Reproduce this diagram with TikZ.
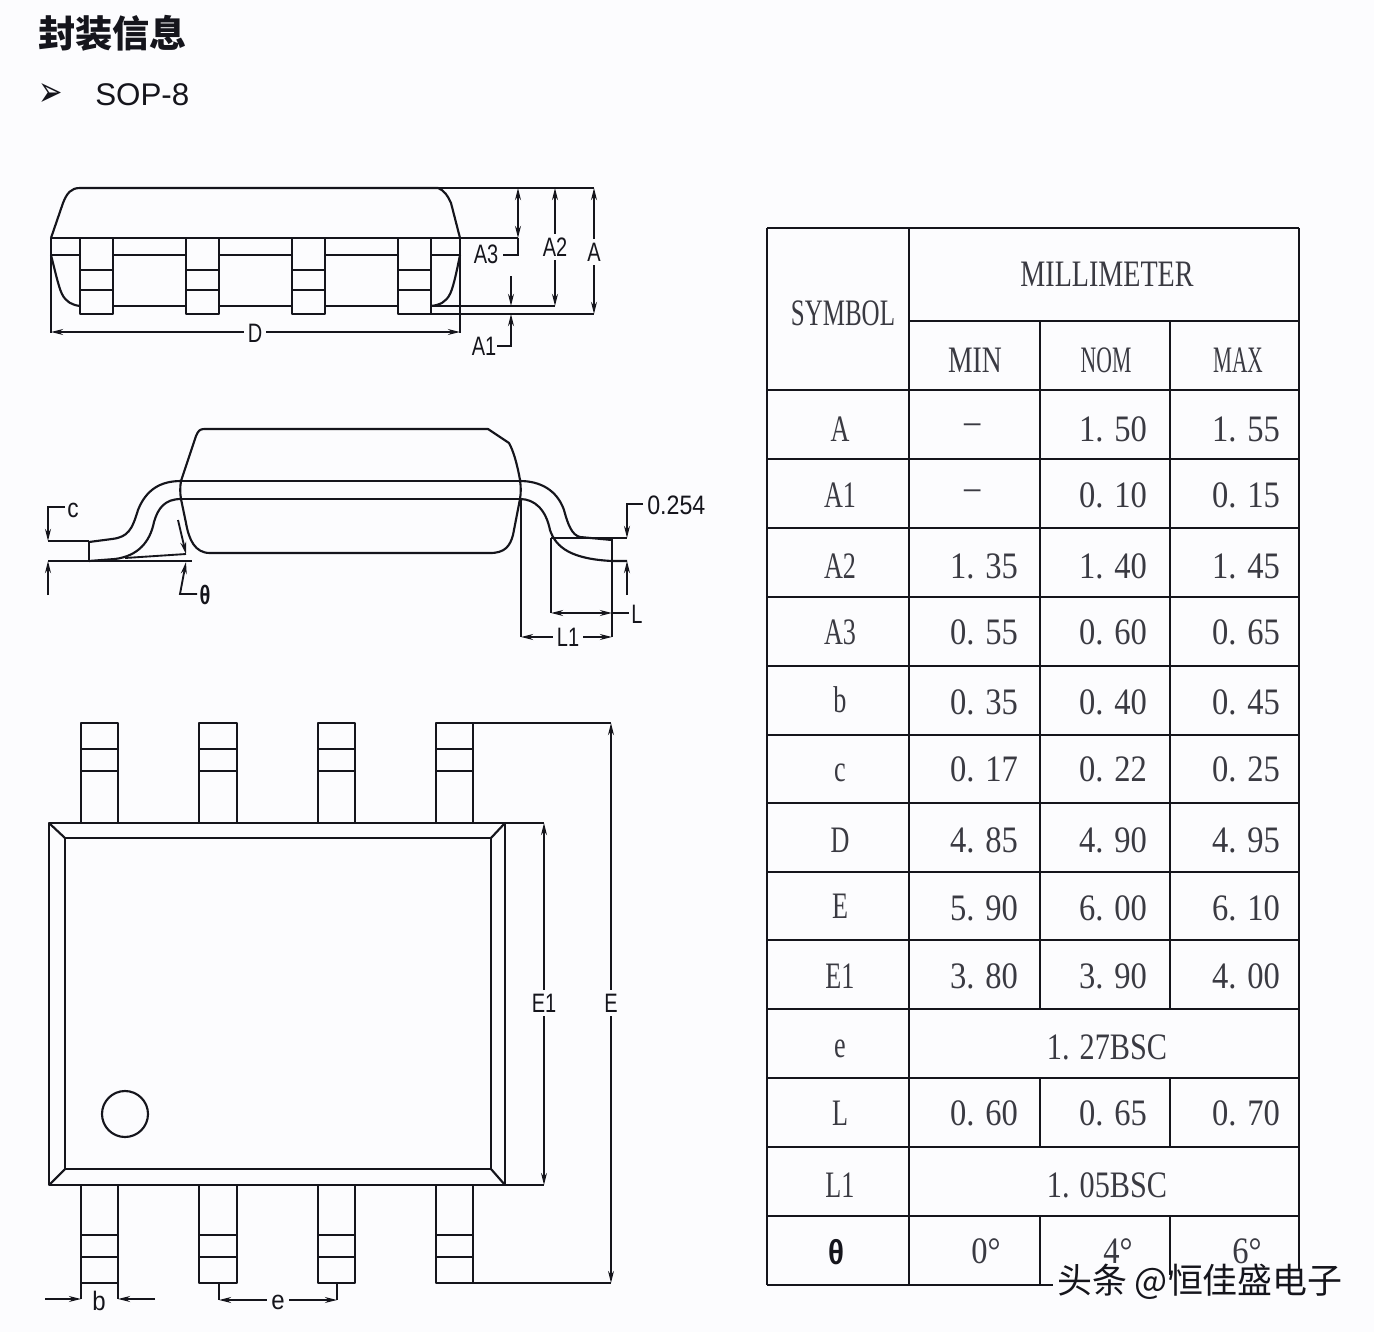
\documentclass[tikz,border=0pt]{standalone}
\usepackage{fontspec}
\setmainfont{Liberation Serif}
\newfontfamily\cadf{Liberation Sans}
\newfontfamily\cjkf{Noto Sans CJK SC}
\newfontfamily\dejaf{DejaVu Sans}
\usetikzlibrary{arrows.meta}
\definecolor{ink}{HTML}{15151C}
\definecolor{tbink}{HTML}{3A3A42}
\definecolor{paper}{HTML}{FCFCFE}
\newcommand\sx[2]{\scalebox{#1}[1]{#2}}
\newcommand\pinsv[1]{%
  \draw[obj] (#1,238) rectangle (#1+33,314);
  \draw[obj] (#1,270) -- (#1+33,270) (#1,290) -- (#1+33,290);}
\newcommand\pinbv[5]{%
  \draw[obj] (#1,#3) -- (#1,#4) -- (#2,#4) -- (#2,#3);
  \draw[obj] (#1,#5) -- (#2,#5);}
\newcommand\trow[7][0]{%
  \node[tb] (sym#2) at (840,#3+#1) {\sx{.70}{#4}};
  \node[tb] (min#2) at (984,#3) {\sx{.872}{#5}};
  \node[tb] (nom#2) at (1113,#3) {\sx{.872}{#6}};
  \node[tb] (max#2) at (1246,#3) {\sx{.872}{#7}};}
\tikzset{
  obj/.style={draw=ink,line width=1.6pt,line join=round},
  dim/.style={draw=ink,line width=1.4pt,>={Stealth[length=9pt,width=4.4pt]}},
  cad/.style={font=\cadf\fontsize{20}{22}\selectfont,text=ink,inner sep=3pt,fill=paper},
  cadn/.style={font=\cadf\fontsize{20}{22}\selectfont,text=ink,inner sep=1pt},
  tb/.style={font=\fontsize{28}{30}\selectfont,text=tbink,inner sep=0pt},
  tline/.style={draw=ink,line width=1.6pt}
}
\begin{document}
\begin{tikzpicture}[x=.75pt,y=-.75pt]
\useasboundingbox (0,0) rectangle (1374,1332);
\fill[paper] (0,0) rectangle (1374,1332);
% title
\node[anchor=west,inner sep=0pt,text=ink,font=\cjkf\bfseries\fontsize{27.9}{30}\selectfont] (title) at (38,33) {封装信息};
\node[inner sep=0pt,text=ink,font=\dejaf\fontsize{19}{22}\selectfont] (bullet) at (51,95) {\scalebox{1.15}[1.7]{➢}};
\node[anchor=west,inner sep=0pt,text=ink,font=\cadf\fontsize{23.5}{26}\selectfont] (sop) at (95,95) {SOP-8};
% ---------- top (end) view
\draw[obj] (51,238) -- (63,203) .. controls (67,193) and (71,188) .. (80,188) -- (438,188)
  .. controls (444,190) and (448,196) .. (451,203) -- (460,238);
\draw[obj] (51,238) -- (460,238);
\draw[obj] (51,255) .. controls (56,275) and (59,288) .. (62,294) .. controls (66,302) and (72,305) .. (80,306);
\draw[obj] (460,255) .. controls (456,275) and (453,288) .. (450,294) .. controls (446,302) and (440,305) .. (431,306);
\draw[obj] (51,255) -- (80,255) (113,255) -- (186,255) (219,255) -- (292,255) (325,255) -- (398,255) (431,255) -- (460,255);
\draw[obj] (113,306) -- (186,306) (219,306) -- (292,306) (325,306) -- (398,306);
\pinsv{80}\pinsv{186}\pinsv{292}\pinsv{398}
\draw[obj] (51,238) -- (51,333) (460,238) -- (460,333);
\draw[dim] (438,188) -- (594,188) (460,238) -- (518,238) (431,306) -- (555,306) (431,314) -- (594,314);
\draw[dim,<->] (518,188) -- (518,238);
\draw[dim] (518,238) -- (518,255) -- (503,255);
\draw[dim,<->] (555,188) -- (555,306);
\draw[dim,<->] (594,188) -- (594,314);
\draw[dim,->] (511,276) -- (511,306);
\draw[dim,<-] (511,314) -- (511,346) -- (497,346);
\draw[dim,<->] (51,332) -- (460,332);
\node[cadn] (lA3) at (486,254) {\sx{.75}{A3}};
\node[cad] (lA2) at (555,247) {\sx{.75}{A2}};
\node[cad] (lA) at (594,252) {\sx{.75}{A}};
\node[cadn] (lA1) at (484,346) {\sx{.75}{A1}};
\node[cad] (lD) at (255,333) {\sx{.75}{D}};
% ---------- side view
\draw[obj] (181,481) -- (196,436) .. controls (198,431) and (200,429) .. (204,429) -- (488,429)
  -- (509,443) .. controls (513,450) and (517,463) .. (520,480);
\draw[obj] (181,481) .. controls (180,487) and (180,493) .. (181,499) -- (186,523)
  .. controls (189,540) and (195,553) .. (210,553) -- (490,553)
  .. controls (505,553) and (510,546) .. (513,535) -- (520,499) .. controls (521,493) and (521,487) .. (520,480);
\draw[obj] (181,481) -- (520,481) (181,499) -- (520,499);
\draw[obj] (181,481) .. controls (160,481) and (146,490) .. (138,510)
  .. controls (132,530) and (128,537) .. (112,539) -- (89,542);
\draw[obj] (181,499) .. controls (165,499) and (158,508) .. (154,522)
  .. controls (150,542) and (138,556) .. (115,559) -- (89,561);
\draw[obj] (89,541) -- (89,561);
\draw[obj] (520,481) .. controls (540,481) and (557,490) .. (564,510)
  .. controls (568,525) and (572,535) .. (580,537) -- (612,540);
\draw[obj] (520,499) .. controls (535,499) and (546,510) .. (550,530)
  .. controls (556,548) and (572,559) .. (612,561) -- (627,561);
% left dims
\draw[dim] (48,561) -- (192,561);
\draw[dim,->] (48,595) -- (48,561);
\draw[dim,->] (65,507) -- (48,507) -- (48,541);
\draw[dim] (48,541) -- (89,541);
\node[cadn] (lc) at (73,510) {\sx{.85}{c}};
\draw[dim] (125,558) -- (186,554);
\draw[dim,<-] (186,554) -- (178,520);
\draw[dim,<-] (186,562) -- (180,594) -- (197,594);
\node[cadn,font=\cadf\bfseries\fontsize{20}{22}\selectfont] (ltheta) at (205,595) {\sx{.75}{θ}};
% right dims
\draw[dim] (521,499) -- (521,637) (551,538) -- (551,613) (612,538) -- (612,637);
\draw[dim] (551,538) -- (627,538);
\draw[dim,->] (643,504) -- (627,504) -- (627,538);
\draw[dim,->] (627,595) -- (627,561);
\node[cadn,anchor=west,inner sep=0pt] (l254) at (647,505) {\sx{.87}{0.254}};
\draw[dim,<->] (551,613) -- (612,613);
\draw[dim] (612,613) -- (629,613);
\node[cadn] (lL) at (637,614) {\sx{.75}{L}};
\draw[dim,<->] (521,637) -- (612,637);
\node[cad] (lL1) at (568,637) {\sx{.75}{L1}};
% ---------- bottom view
\draw[obj] (49,823) rectangle (505,1185);
\draw[obj] (65,838) rectangle (491,1169);
\draw[obj] (49,823) -- (65,838) (505,823) -- (491,838) (49,1185) -- (65,1169) (505,1185) -- (491,1169);
\draw[obj] (125,1114) circle[radius=23];
\pinbv{81}{118}{823}{723}{749}\draw[obj] (81,771) -- (118,771);
\pinbv{199}{237}{823}{723}{749}\draw[obj] (199,771) -- (237,771);
\pinbv{318}{355}{823}{723}{749}\draw[obj] (318,771) -- (355,771);
\pinbv{436}{473}{823}{723}{749}\draw[obj] (436,771) -- (473,771);
\pinbv{81}{118}{1185}{1283}{1235}\draw[obj] (81,1257) -- (118,1257);
\pinbv{199}{237}{1185}{1283}{1235}\draw[obj] (199,1257) -- (237,1257);
\pinbv{318}{355}{1185}{1283}{1235}\draw[obj] (318,1257) -- (355,1257);
\pinbv{436}{473}{1185}{1283}{1235}\draw[obj] (436,1257) -- (473,1257);
\draw[dim] (473,723) -- (611,723) (473,1283) -- (611,1283) (505,823) -- (544,823) (505,1185) -- (544,1185);
\draw[dim,<->] (611,723) -- (611,1283);
\draw[dim,<->] (544,823) -- (544,1185);
\node[cad] (lE) at (611,1003) {\sx{.75}{E}};
\node[cad] (lE1) at (544,1003) {\sx{.75}{E1}};
\draw[dim] (81,1283) -- (81,1299) (118,1283) -- (118,1299);
\draw[dim,->] (45,1299) -- (81,1299);
\draw[dim,->] (155,1299) -- (118,1299);
\node[cadn] (lb) at (99,1301) {\sx{.9}{b}};
\draw[dim] (219,1283) -- (219,1300) (337,1283) -- (337,1300);
\draw[dim,<->] (219,1300) -- (337,1300);
\node[cad] (le) at (278,1302) {\sx{.9}{e}};
% ---------- table
\draw[tline] (767,228) -- (1299,228) (909,321) -- (1299,321);
\foreach \yy in {390,459,528,597,666,735,803,872,940,1009,1078,1147,1216}
  \draw[tline] (767,\yy) -- (1299,\yy);
\draw[tline] (767,1285) -- (1053,1285);
\draw[tline] (767,228) -- (767,1285) (909,228) -- (909,1285) (1299,228) -- (1299,1270);
\draw[tline] (1040,321) -- (1040,1009) (1040,1078) -- (1040,1147) (1040,1216) -- (1040,1285);
\draw[tline] (1170,321) -- (1170,1009) (1170,1078) -- (1170,1147) (1170,1216) -- (1170,1275);
\node[tb] (hsym) at (843,313) {\sx{.669}{SYMBOL}};
\node[tb] (hmm) at (1107,274) {\sx{.752}{MILLIMETER}};
\node[tb] (hmin) at (975,360) {\sx{.74}{MIN}};
\node[tb] (hnom) at (1106,360) {\sx{.582}{NOM}};
\node[tb] (hmax) at (1238,360) {\sx{.571}{MAX}};
\trow{a}{429}{A}{\kern-20pt\raisebox{-3pt}{–}}{1. 50}{1. 55}
\trow{aa}{495}{A1}{\kern-20pt\raisebox{-3pt}{–}}{0. 10}{0. 15}
\trow{ab}{566}{A2}{1. 35}{1. 40}{1. 45}
\trow{ac}{632}{A3}{0. 55}{0. 60}{0. 65}
\trow[-2]{b}{702}{b}{0. 35}{0. 40}{0. 45}
\trow[4]{c}{769}{c}{0. 17}{0. 22}{0. 25}
\trow{d}{840}{D}{4. 85}{4. 90}{4. 95}
\trow[-2]{e}{908}{E}{5. 90}{6. 00}{6. 10}
\trow{ea}{976}{E1}{3. 80}{3. 90}{4. 00}
\node[tb] (syme2) at (840,1049) {\sx{.70}{e}};
\node[tb] (v127) at (1107,1047) {\sx{.81}{1. 27BSC}};
\trow{l}{1113}{L}{0. 60}{0. 65}{0. 70}
\node[tb] (syml1) at (840,1185) {\sx{.70}{L1}};
\node[tb] (v105) at (1107,1185) {\sx{.81}{1. 05BSC}};
\node[tb,font=\cadf\bfseries\fontsize{26}{28}\selectfont,text=ink] (symth) at (836,1252) {\sx{.85}{θ}};
\node[tb] (th0) at (986,1251) {\sx{.872}{0°}};
\node[tb] (th4) at (1118,1251) {\sx{.872}{4°}};
\node[tb] (th6) at (1247,1251) {\sx{.872}{6°}};
% watermark
\node[anchor=west,inner sep=0pt,text=ink,font=\cjkf\fontsize{26.2}{28}\selectfont] (wm) at (1057,1282) {头条 @恒佳盛电子};
\end{tikzpicture}
\end{document}
